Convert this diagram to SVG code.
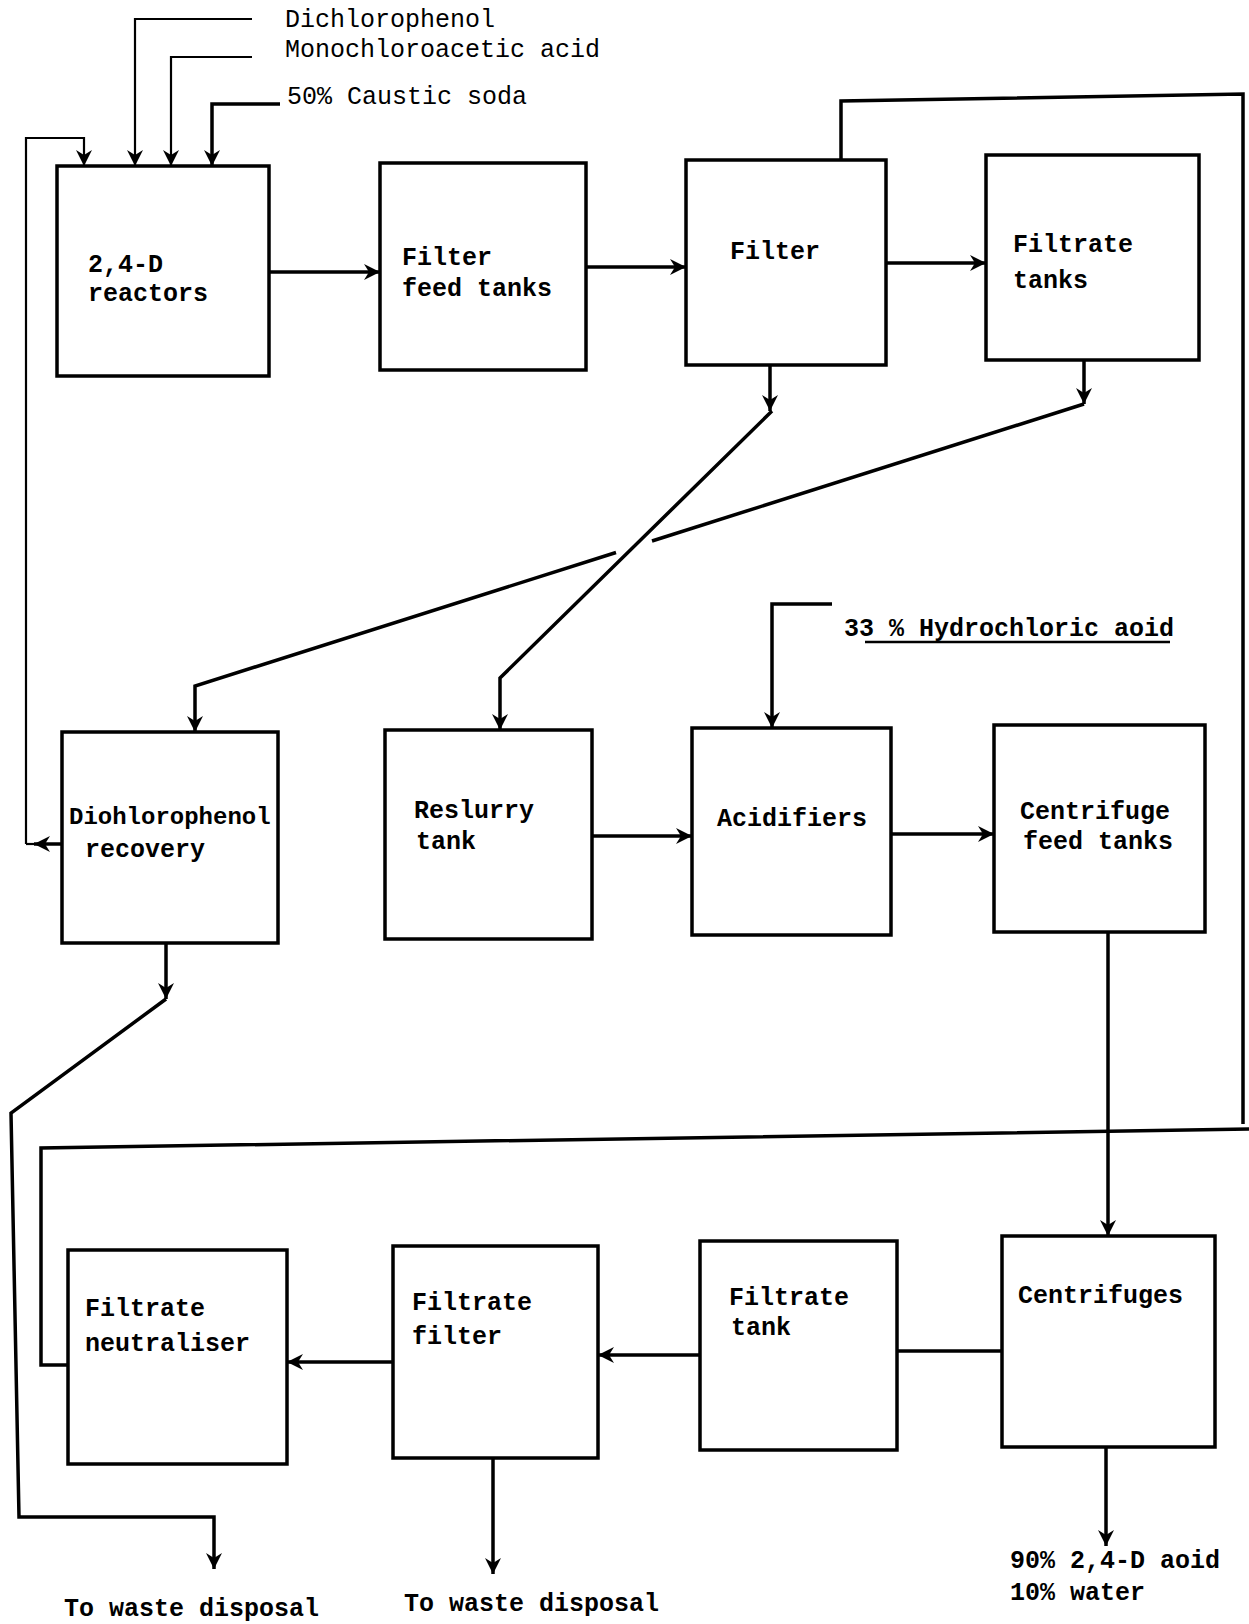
<svg xmlns="http://www.w3.org/2000/svg" width="1249" height="1624" viewBox="0 0 1249 1624">
<defs>
<marker id="ah" markerUnits="userSpaceOnUse" markerWidth="18" markerHeight="18" refX="16" refY="8" orient="auto">
<path d="M0,0 L16,8 L0,16 L5,8 z" fill="#000"/>
</marker>
</defs>
<style>
.box{fill:#fff;stroke:#000;stroke-width:3.5}
.ln{fill:none;stroke:#000;stroke-width:3.5;stroke-linejoin:miter}
.thin{fill:none;stroke:#000;stroke-width:2.2}
.t{font-family:"Liberation Mono",monospace;font-size:25px;fill:#000}
.b{font-weight:bold}
</style>
<rect width="1249" height="1624" fill="#fff"/>
<g id="connectors">
<path class="thin" d="M252,19 H135 V166" marker-end="url(#ah)"/>
<path class="thin" d="M252,57 H171 V166" marker-end="url(#ah)"/>
<path class="ln" d="M280,104 H212 V166" marker-end="url(#ah)"/>
<path class="thin" d="M26,844 V138 H84 V166" marker-end="url(#ah)"/>
<path class="ln" d="M62,844 H34" marker-end="url(#ah)"/>
<path class="thin" d="M34,844 H26"/>
<path class="ln" d="M269,272 H380" marker-end="url(#ah)"/>
<path class="ln" d="M586,267 H686" marker-end="url(#ah)"/>
<path class="ln" d="M886,263 H986" marker-end="url(#ah)"/>
<path class="ln" d="M841,160 V101 L1243,94 V1124"/>
<path class="ln" d="M1249,1129 L41,1148 V1365 H68"/>
<path class="ln" d="M770,365 V411" marker-end="url(#ah)"/>
<path class="ln" d="M772,411 L500,678 V730" marker-end="url(#ah)"/>
<path class="ln" d="M1084,360 V404" marker-end="url(#ah)"/>
<path class="ln" d="M1084,404 L652,541"/>
<path class="ln" d="M616,552.5 L195,686 V732" marker-end="url(#ah)"/>
<path class="ln" d="M832,604 H772 V728" marker-end="url(#ah)"/>
<path class="ln" d="M592,836 H692" marker-end="url(#ah)"/>
<path class="ln" d="M891,834 H994" marker-end="url(#ah)"/>
<path class="ln" d="M1108,932 V1236" marker-end="url(#ah)"/>
<path class="ln" d="M1002,1351 H897"/>
<path class="ln" d="M700,1355 H598" marker-end="url(#ah)"/>
<path class="ln" d="M393,1362 H287" marker-end="url(#ah)"/>
<path class="ln" d="M166,943 V999" marker-end="url(#ah)"/>
<path class="ln" d="M166,999 L11,1113 L19,1517 H214 V1569" marker-end="url(#ah)"/>
<path class="ln" d="M493,1458 V1574" marker-end="url(#ah)"/>
<path class="ln" d="M1106,1447 V1546" marker-end="url(#ah)"/>
<path class="ln" d="M865,642 H1170" style="stroke-width:2.5"/>
</g>
<g id="inputs">
<text class="t" x="285" y="27">Dichlorophenol</text>
<text class="t" x="285" y="57">Monochloroacetic acid</text>
<text class="t" x="287" y="104">50% Caustic soda</text>
<text class="t b" x="844" y="636">33 % Hydrochloric aoid</text>
</g>
<g id="reactors"><rect class="box" x="57" y="166" width="212" height="210"/><text class="t b" x="88" y="272">2,4-D</text><text class="t b" x="88" y="301">reactors</text></g>
<g id="filter-feed"><rect class="box" x="380" y="163" width="206" height="207"/><text class="t b" x="402" y="265">Filter</text><text class="t b" x="402" y="296">feed tanks</text></g>
<g id="filter"><rect class="box" x="686" y="160" width="200" height="205"/><text class="t b" x="730" y="259">Filter</text></g>
<g id="filtrate-tanks"><rect class="box" x="986" y="155" width="213" height="205"/><text class="t b" x="1013" y="252">Filtrate</text><text class="t b" x="1013" y="288">tanks</text></g>
<g id="dcp-recovery"><rect class="box" x="62" y="732" width="216" height="211"/><text class="t b" x="69" y="824" style="font-size:24px">Diohlorophenol</text><text class="t b" x="85" y="857">recovery</text></g>
<g id="reslurry"><rect class="box" x="385" y="730" width="207" height="209"/><text class="t b" x="414" y="818">Reslurry</text><text class="t b" x="416" y="849">tank</text></g>
<g id="acidifiers"><rect class="box" x="692" y="728" width="199" height="207"/><text class="t b" x="717" y="826">Acidifiers</text></g>
<g id="centrifuge-feed"><rect class="box" x="994" y="725" width="211" height="207"/><text class="t b" x="1020" y="819">Centrifuge</text><text class="t b" x="1023" y="849">feed tanks</text></g>
<g id="centrifuges"><rect class="box" x="1002" y="1236" width="213" height="211"/><text class="t b" x="1018" y="1303">Centrifuges</text></g>
<g id="filtrate-tank"><rect class="box" x="700" y="1241" width="197" height="209"/><text class="t b" x="729" y="1305">Filtrate</text><text class="t b" x="731" y="1335">tank</text></g>
<g id="filtrate-filter"><rect class="box" x="393" y="1246" width="205" height="212"/><text class="t b" x="412" y="1310">Filtrate</text><text class="t b" x="412" y="1344">filter</text></g>
<g id="neutraliser"><rect class="box" x="68" y="1250" width="219" height="214"/><text class="t b" x="85" y="1316">Filtrate</text><text class="t b" x="85" y="1351">neutraliser</text></g>
<g id="outputs">
<text class="t b" x="64" y="1616">To waste disposal</text>
<text class="t b" x="404" y="1611">To waste disposal</text>
<text class="t b" x="1010" y="1568">90% 2,4-D aoid</text>
<text class="t b" x="1010" y="1600">10% water</text>
</g>
</svg>
